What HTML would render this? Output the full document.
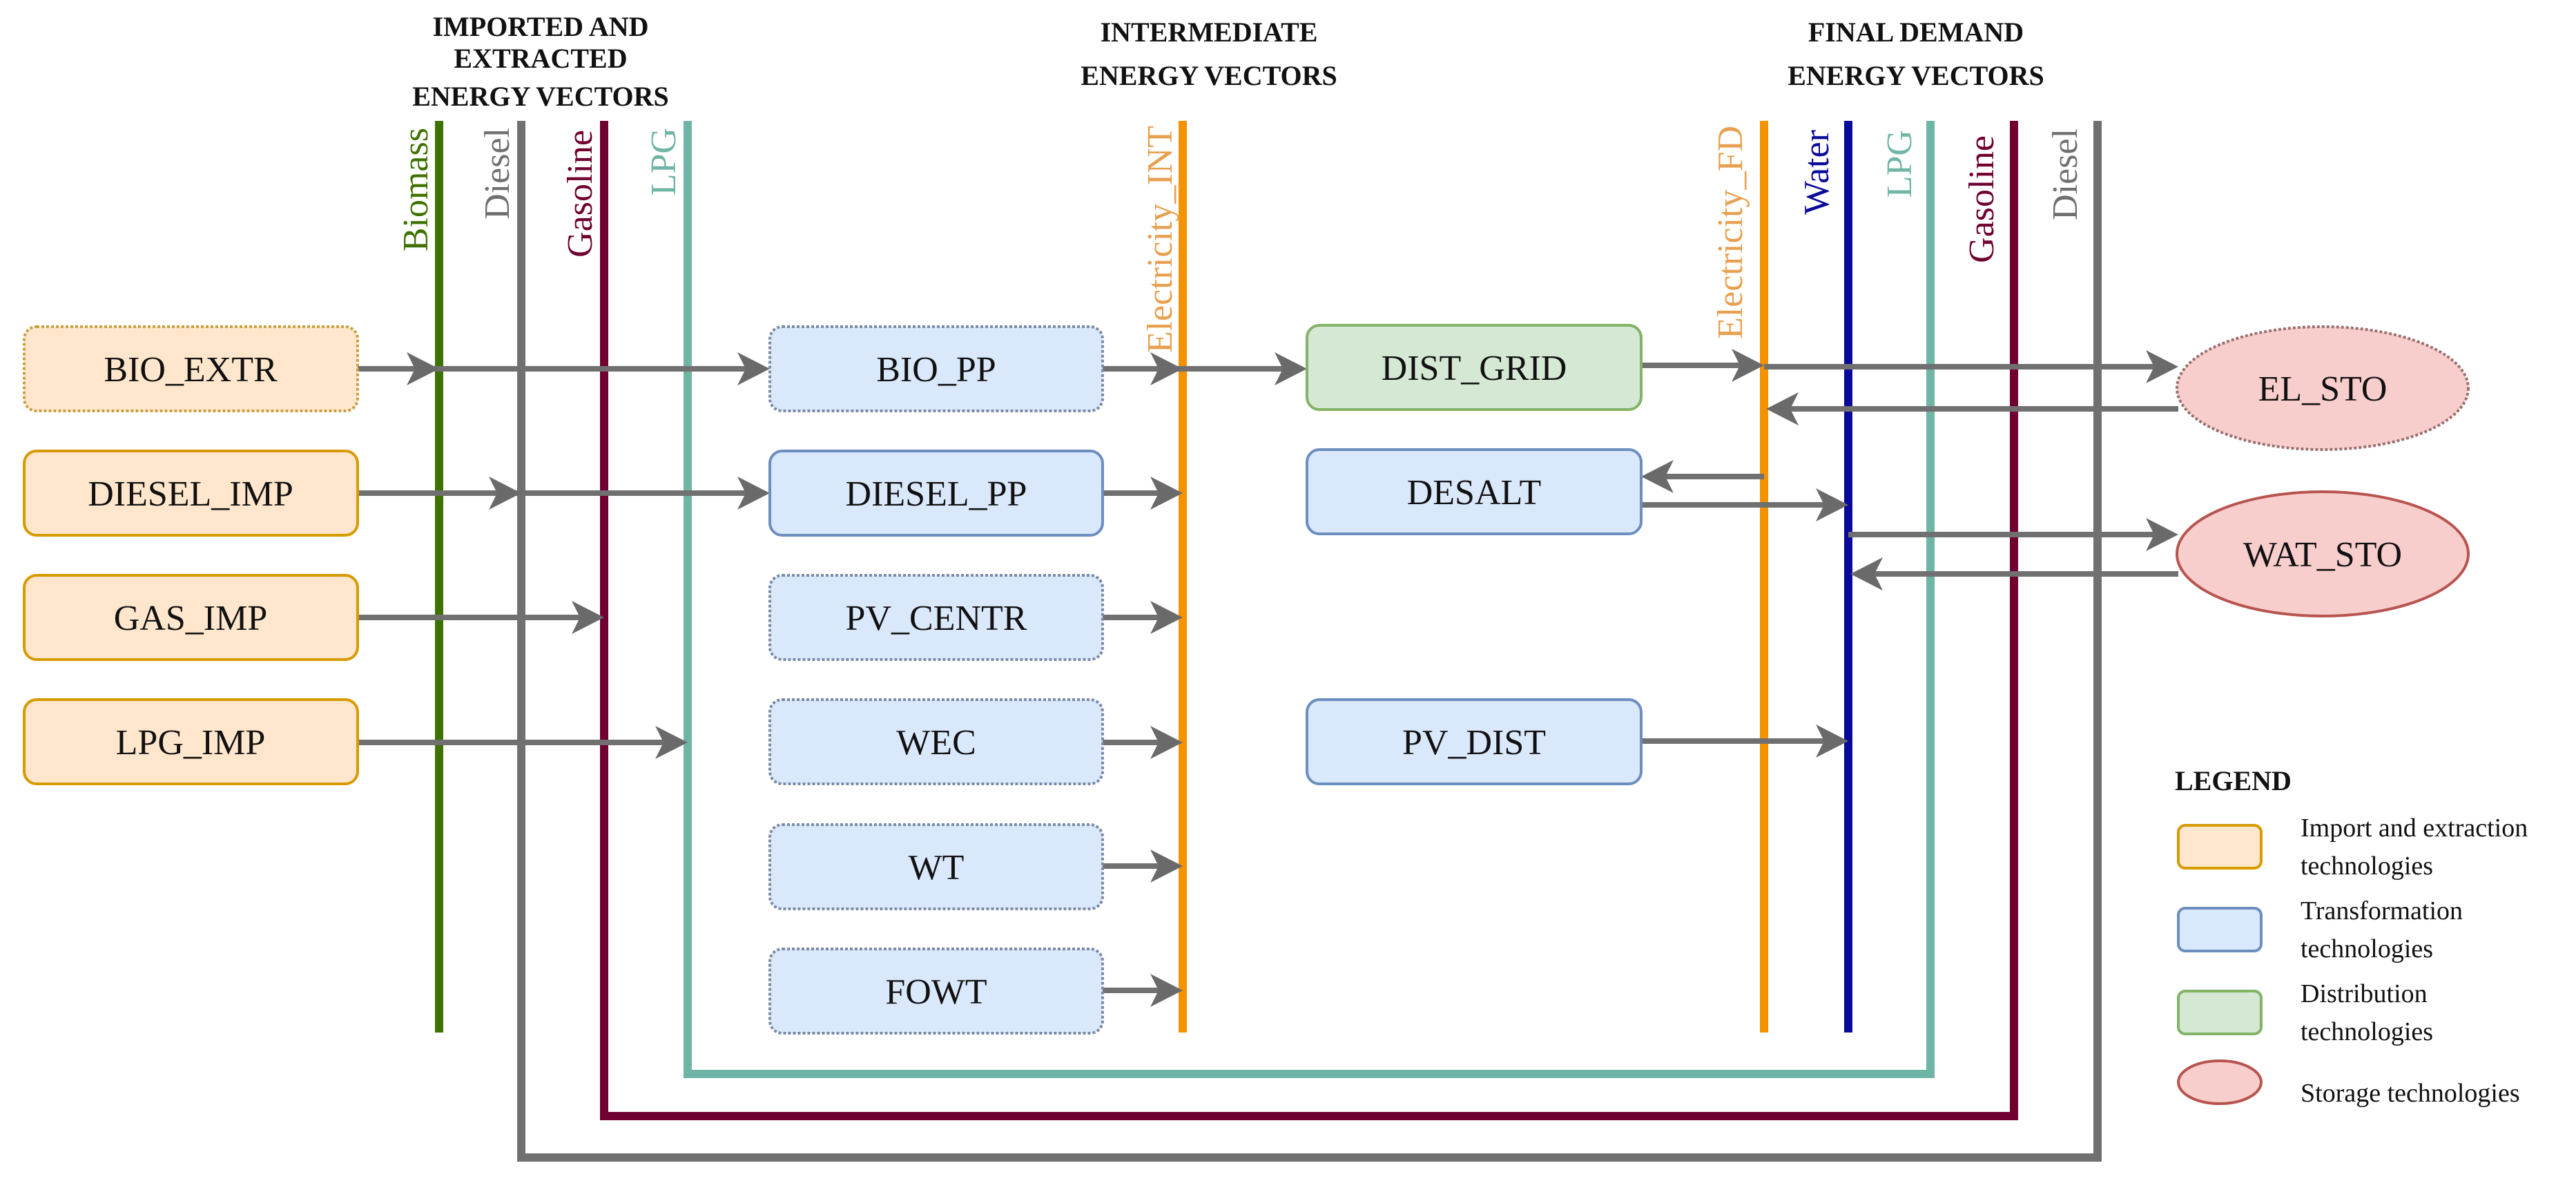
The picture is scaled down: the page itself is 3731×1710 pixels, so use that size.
<!DOCTYPE html>
<html><head><meta charset="utf-8"><style>html,body{margin:0;padding:0;background:#fff}svg{display:block}</style></head><body>
<svg width="3731" height="1710" viewBox="0 0 3731 1710" xmlns="http://www.w3.org/2000/svg" font-family="'Liberation Serif', serif">
<rect width="3731" height="1710" fill="#fff"/>
<!-- headers -->
<g font-weight="bold" font-size="40" text-anchor="middle" fill="#111">
<text x="783" y="52">IMPORTED AND</text>
<text x="783" y="98">EXTRACTED</text>
<text x="783" y="153">ENERGY VECTORS</text>
<text x="1751" y="60">INTERMEDIATE</text>
<text x="1751" y="123">ENERGY VECTORS</text>
<text x="2775" y="60">FINAL DEMAND</text>
<text x="2775" y="123">ENERGY VECTORS</text>
</g>
<!-- vertical lines / loops -->
<g fill="none" stroke-width="12">
<line x1="636" y1="175" x2="636" y2="1495" stroke="#3e7100"/>
<polyline points="755,175 755,1676 3038,1676 3038,175" stroke="#707070"/>
<polyline points="875,175 875,1616 2917,1616 2917,175" stroke="#6f0030"/>
<polyline points="996,175 996,1555 2796,1555 2796,175" stroke="#6fb5a6"/>
<line x1="1713" y1="175" x2="1713" y2="1495" stroke="#f59200"/>
<line x1="2555" y1="175" x2="2555" y2="1495" stroke="#f59200"/>
<line x1="2677" y1="175" x2="2677" y2="1495" stroke="#0a0a9a"/>
</g>
<!-- vertical labels -->
<g font-family="'Liberation Serif', serif" font-size="52" text-anchor="end">
<text transform="translate(619,185) rotate(-90)" fill="#3e7100">Biomass</text>
<text transform="translate(737,185) rotate(-90)" fill="#707070">Diesel</text>
<text transform="translate(857,188) rotate(-90)" fill="#6f0030">Gasoline</text>
<text transform="translate(978,185) rotate(-90)" fill="#6fb5a6">LPG</text>
<text transform="translate(1697,182) rotate(-90)" fill="#e8a050">Electricity_INT</text>
<text transform="translate(2523,182) rotate(-90)" fill="#e8a050">Electricity_FD</text>
<text transform="translate(2648,188) rotate(-90)" fill="#0a0a9a">Water</text>
<text transform="translate(2768,188) rotate(-90)" fill="#6fb5a6">LPG</text>
<text transform="translate(2887,196) rotate(-90)" fill="#6f0030">Gasoline</text>
<text transform="translate(3008,186) rotate(-90)" fill="#707070">Diesel</text>
</g>
<!-- connectors -->
<g stroke="#707070" stroke-width="8" fill="none">
<line x1="518" y1="534" x2="1080" y2="534"/>
<line x1="1597" y1="534" x2="1860" y2="534"/>
<line x1="518" y1="714" x2="1080" y2="714"/>
<line x1="1597" y1="714" x2="1690" y2="714"/>
<line x1="518" y1="894" x2="850" y2="894"/>
<line x1="1597" y1="894" x2="1690" y2="894"/>
<line x1="518" y1="1075" x2="970" y2="1075"/>
<line x1="1597" y1="1075" x2="1690" y2="1075"/>
<line x1="1597" y1="1254" x2="1690" y2="1254"/>
<line x1="1597" y1="1434" x2="1690" y2="1434"/>
<line x1="2377" y1="529" x2="2530" y2="529"/>
<line x1="2555" y1="531" x2="3120" y2="531"/>
<line x1="3155" y1="592" x2="2590" y2="592"/>
<line x1="2555" y1="690" x2="2410" y2="690"/>
<line x1="2377" y1="731" x2="2650" y2="731"/>
<line x1="2677" y1="774" x2="3120" y2="774"/>
<line x1="3155" y1="831" x2="2710" y2="831"/>
<line x1="2377" y1="1073" x2="2650" y2="1073"/>
</g>
<g fill="#6a6a6a">
<!-- right arrows: tip at x,y -->
<path d="M636,534 l-47,-24 l12,24 l-12,24 z"/>
<path d="M1115,534 l-47,-24 l12,24 l-12,24 z"/>
<path d="M1713,534 l-47,-24 l12,24 l-12,24 z"/>
<path d="M1893,534 l-47,-24 l12,24 l-12,24 z"/>
<path d="M755,714 l-47,-24 l12,24 l-12,24 z"/>
<path d="M1115,714 l-47,-24 l12,24 l-12,24 z"/>
<path d="M1713,714 l-47,-24 l12,24 l-12,24 z"/>
<path d="M875,894 l-47,-24 l12,24 l-12,24 z"/>
<path d="M1713,894 l-47,-24 l12,24 l-12,24 z"/>
<path d="M996,1075 l-47,-24 l12,24 l-12,24 z"/>
<path d="M1713,1075 l-47,-24 l12,24 l-12,24 z"/>
<path d="M1713,1254 l-47,-24 l12,24 l-12,24 z"/>
<path d="M1713,1434 l-47,-24 l12,24 l-12,24 z"/>
<path d="M2555,529 l-47,-24 l12,24 l-12,24 z"/>
<path d="M3155,531 l-47,-24 l12,24 l-12,24 z"/>
<path d="M2677,731 l-47,-24 l12,24 l-12,24 z"/>
<path d="M3155,774 l-47,-24 l12,24 l-12,24 z"/>
<path d="M2677,1073 l-47,-24 l12,24 l-12,24 z"/>
<!-- left arrows -->
<path d="M2558,592 l47,-24 l-12,24 l12,24 z"/>
<path d="M2377,690 l47,-24 l-12,24 l12,24 z"/>
<path d="M2680,831 l47,-24 l-12,24 l12,24 z"/>
</g>
<!-- boxes -->
<g stroke-width="4">
<rect x="35" y="473" width="483" height="122" rx="18" fill="#ffe6cc" stroke="#c9a040" stroke-dasharray="4 3"/>
<rect x="35" y="653" width="483" height="122" rx="18" fill="#ffe6cc" stroke="#d79b00"/>
<rect x="35" y="833" width="483" height="122" rx="18" fill="#ffe6cc" stroke="#d79b00"/>
<rect x="35" y="1013" width="483" height="122" rx="18" fill="#ffe6cc" stroke="#d79b00"/>
<rect x="1115" y="473" width="482" height="122" rx="18" fill="#dae8fc" stroke="#7b8aa5" stroke-dasharray="4 3"/>
<rect x="1115" y="653" width="482" height="122" rx="18" fill="#dae8fc" stroke="#6c8ebf"/>
<rect x="1115" y="833" width="482" height="122" rx="18" fill="#dae8fc" stroke="#7b8aa5" stroke-dasharray="4 3"/>
<rect x="1115" y="1013" width="482" height="122" rx="18" fill="#dae8fc" stroke="#7b8aa5" stroke-dasharray="4 3"/>
<rect x="1115" y="1194" width="482" height="122" rx="18" fill="#dae8fc" stroke="#7b8aa5" stroke-dasharray="4 3"/>
<rect x="1115" y="1374" width="482" height="122" rx="18" fill="#dae8fc" stroke="#7b8aa5" stroke-dasharray="4 3"/>
<rect x="1893" y="471" width="484" height="122" rx="18" fill="#d5e8d4" stroke="#82b366"/>
<rect x="1893" y="651" width="484" height="122" rx="18" fill="#dae8fc" stroke="#6c8ebf"/>
<rect x="1893" y="1013" width="484" height="122" rx="18" fill="#dae8fc" stroke="#6c8ebf"/>
<ellipse cx="3364" cy="562" rx="211" ry="89" fill="#f8cecc" stroke="#9a7070" stroke-dasharray="4 3"/>
<ellipse cx="3364" cy="802" rx="211" ry="90" fill="#f8cecc" stroke="#b85450"/>
</g>
<g font-size="52" text-anchor="middle" fill="#111">
<text x="276" y="552">BIO_EXTR</text>
<text x="276" y="732">DIESEL_IMP</text>
<text x="276" y="912">GAS_IMP</text>
<text x="276" y="1092">LPG_IMP</text>
<text x="1356" y="552">BIO_PP</text>
<text x="1356" y="732">DIESEL_PP</text>
<text x="1356" y="912">PV_CENTR</text>
<text x="1356" y="1092">WEC</text>
<text x="1356" y="1273">WT</text>
<text x="1356" y="1453">FOWT</text>
<text x="2135" y="550">DIST_GRID</text>
<text x="2135" y="730">DESALT</text>
<text x="2135" y="1092">PV_DIST</text>
<text x="3364" y="580">EL_STO</text>
<text x="3364" y="820">WAT_STO</text>
</g>
<!-- legend -->
<text x="3150" y="1144" font-size="40" font-weight="bold" fill="#111">LEGEND</text>
<g stroke-width="4">
<rect x="3155" y="1195" width="120" height="62" rx="10" fill="#ffe6cc" stroke="#d79b00"/>
<rect x="3155" y="1315" width="120" height="62" rx="10" fill="#dae8fc" stroke="#6c8ebf"/>
<rect x="3155" y="1435" width="120" height="62" rx="10" fill="#d5e8d4" stroke="#82b366"/>
<ellipse cx="3215" cy="1567" rx="60" ry="31" fill="#f8cecc" stroke="#b85450"/>
</g>
<g font-size="38" fill="#111">
<text x="3332" y="1211">Import and extraction</text>
<text x="3332" y="1266">technologies</text>
<text x="3332" y="1331">Transformation</text>
<text x="3332" y="1386">technologies</text>
<text x="3332" y="1451">Distribution</text>
<text x="3332" y="1506">technologies</text>
<text x="3332" y="1595">Storage technologies</text>
</g>
</svg>
</body></html>
